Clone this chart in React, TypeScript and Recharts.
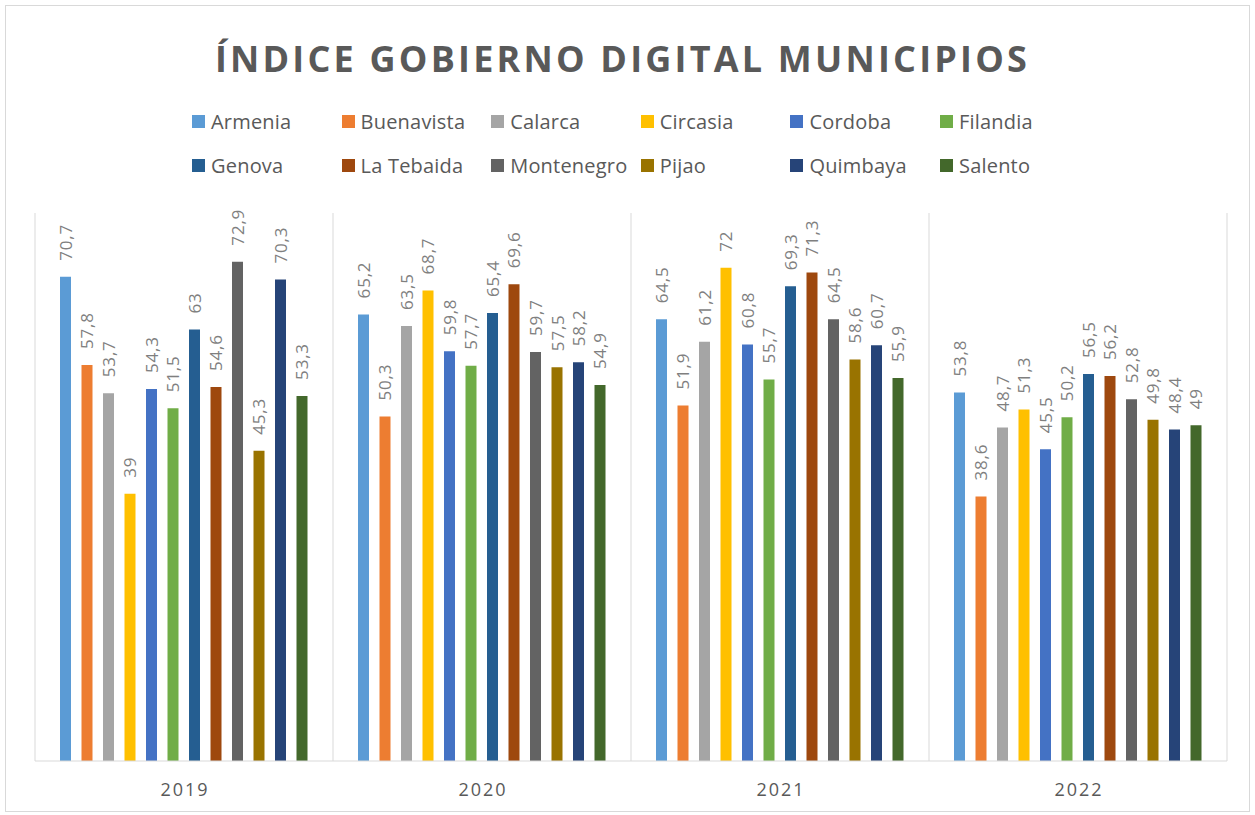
import { BarChart, Bar, XAxis, YAxis, CartesianGrid, LabelList } from "recharts";

const years = ["2019", "2020", "2021", "2022"];

const municipios = [
  "Armenia", "Buenavista", "Calarca", "Circasia", "Cordoba", "Filandia",
  "Genova", "La Tebaida", "Montenegro", "Pijao", "Quimbaya", "Salento",
];

const colors = [
  "#5B9BD5", "#ED7D31", "#A5A5A5", "#FFC000", "#4472C4", "#70AD47",
  "#255E91", "#9E480E", "#636363", "#997300", "#264478", "#43682B",
];

const values2019 = [70.7, 57.8, 53.7, 39, 54.3, 51.5, 63, 54.6, 72.9, 45.3, 70.3, 53.3];
const values2020 = [65.2, 50.3, 63.5, 68.7, 59.8, 57.7, 65.4, 69.6, 59.7, 57.5, 58.2, 54.9];
const values2021 = [64.5, 51.9, 61.2, 72, 60.8, 55.7, 69.3, 71.3, 64.5, 58.6, 60.7, 55.9];
const values2022 = [53.8, 38.6, 48.7, 51.3, 45.5, 50.2, 56.5, 56.2, 52.8, 49.8, 48.4, 49];

const byYear = [values2019, values2020, values2021, values2022];

const chartData = years.map((year, i) => {
  const row: Record<string, string | number> = { year };
  municipios.forEach((m, j) => {
    row[m] = byYear[i][j];
  });
  return row;
});

const TEXT = "#595959";
const FONT = "'Open Sans', 'Noto Sans', sans-serif";

// rotated value label sitting above the bar, reading bottom to top
function RotatedLabel(props: any) {
  const { x, y, width, value } = props;
  const cx = Number(x) + Number(width) / 2;
  const ty = Number(y) - 16;
  return (
    <text
      x={cx}
      y={ty}
      transform={`rotate(-90, ${cx}, ${ty})`}
      textAnchor="start"
      dominantBaseline="central"
      fill="#7F7F7F"
      fontSize={17}
      fontFamily={FONT}
      letterSpacing={0.8}
    >
      {String(value).replace(".", ",")}
    </text>
  );
}

function YearTick(props: any) {
  const { x, y, payload } = props;
  return (
    <text
      x={x + 1}
      y={y + 27}
      textAnchor="middle"
      fill={TEXT}
      fontSize={18}
      fontFamily={FONT}
      letterSpacing={2}
    >
      {payload.value}
    </text>
  );
}

export default function App() {
  return (
    <div style={{ position: "absolute", left: 0, top: 0, width: 1255, height: 815, background: "#fff" }}>
      <div
        style={{
          position: "absolute",
          left: 5,
          top: 5,
          width: 1243,
          height: 805,
          border: "1px solid #D9D9D9",
        }}
      />
      <div
        style={{
          position: "absolute",
          left: 0,
          top: 34,
          width: 1245,
          textAlign: "center",
          fontFamily: FONT,
          fontWeight: 700,
          fontSize: 36,
          letterSpacing: 3.2,
          color: TEXT,
        }}
      >
        ÍNDICE GOBIERNO DIGITAL MUNICIPIOS
      </div>
      {municipios.map((m, i) => (
        <div
          key={m}
          style={{
            position: "absolute",
            left: 192 + (i % 6) * 149.6,
            top: 107 + Math.floor(i / 6) * 44,
            height: 28,
            display: "flex",
            alignItems: "center",
            fontFamily: FONT,
            fontSize: 20,
            letterSpacing: 0.2,
            color: TEXT,
            whiteSpace: "nowrap",
          }}
        >
          <span style={{ display: "inline-block", width: 13, height: 13, background: colors[i], marginRight: 6 }} />
          {m}
        </div>
      ))}
      <div style={{ position: "absolute", left: 0, top: 0 }}>
        <BarChart
          width={1255}
          height={815}
          data={chartData}
          margin={{ top: 213, right: 28, bottom: 14, left: 35 }}
          barSize={11}
          barGap={10.5}
        >
          <CartesianGrid
            horizontal={false}
            stroke="#D9D9D9"
            verticalCoordinatesGenerator={({ offset }: any) =>
              years.map((_, i) => offset.left + (i * offset.width) / years.length).concat(offset.left + offset.width)
            }
          />
          <XAxis
            dataKey="year"
            height={40}
            axisLine={{ stroke: "#D9D9D9" }}
            tickLine={false}
            tick={<YearTick />}
          />
          <YAxis hide width={0} domain={[0, 80]} />
          {municipios.map((m, i) => (
            <Bar key={m} dataKey={m} fill={colors[i]} isAnimationActive={false}>
              <LabelList dataKey={m} content={<RotatedLabel />} />
            </Bar>
          ))}
        </BarChart>
      </div>
    </div>
  );
}
